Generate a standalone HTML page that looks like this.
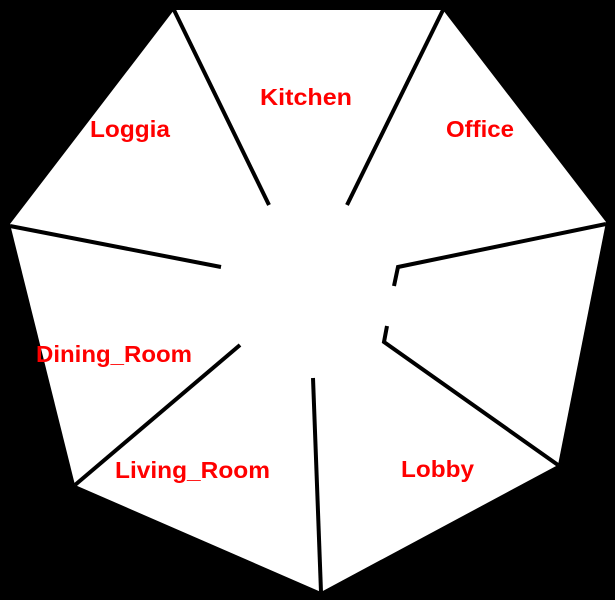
<!DOCTYPE html>
<html><head><meta charset="utf-8"><style>
html,body{margin:0;padding:0;background:#000;}
svg{display:block;}
text{font-family:"Liberation Sans",sans-serif;font-weight:bold;font-size:23px;fill:#ff0000;}
</style></head><body>
<svg width="615" height="600" viewBox="0 0 615 600">
<rect width="615" height="600" fill="#000"/>
<polygon points="174,10 443,10 606,222 558,465 321,592 75,485 10,224" fill="#fff"/>
<g stroke="#000" stroke-width="4" fill="none" stroke-linecap="butt">
<line x1="174" y1="10" x2="269" y2="205"/>
<line x1="443" y1="10" x2="347" y2="205"/>
<polyline points="606,224 398,267 394,286"/>
<polyline points="387,326 384,342 558,465"/>
<line x1="313" y1="378" x2="321" y2="592"/>
<line x1="240" y1="345" x2="75" y2="485"/>
<line x1="10" y1="226" x2="221" y2="267"/>
</g>
<text x="260" y="105" textLength="92" lengthAdjust="spacingAndGlyphs">Kitchen</text>
<text x="90" y="137" textLength="80" lengthAdjust="spacingAndGlyphs">Loggia</text>
<text x="446" y="137" textLength="68" lengthAdjust="spacingAndGlyphs">Office</text>
<text x="36" y="362" textLength="156" lengthAdjust="spacingAndGlyphs">Dining_Room</text>
<text x="115" y="478" textLength="155" lengthAdjust="spacingAndGlyphs">Living_Room</text>
<text x="401" y="477" textLength="73" lengthAdjust="spacingAndGlyphs">Lobby</text>
</svg>
</body></html>
